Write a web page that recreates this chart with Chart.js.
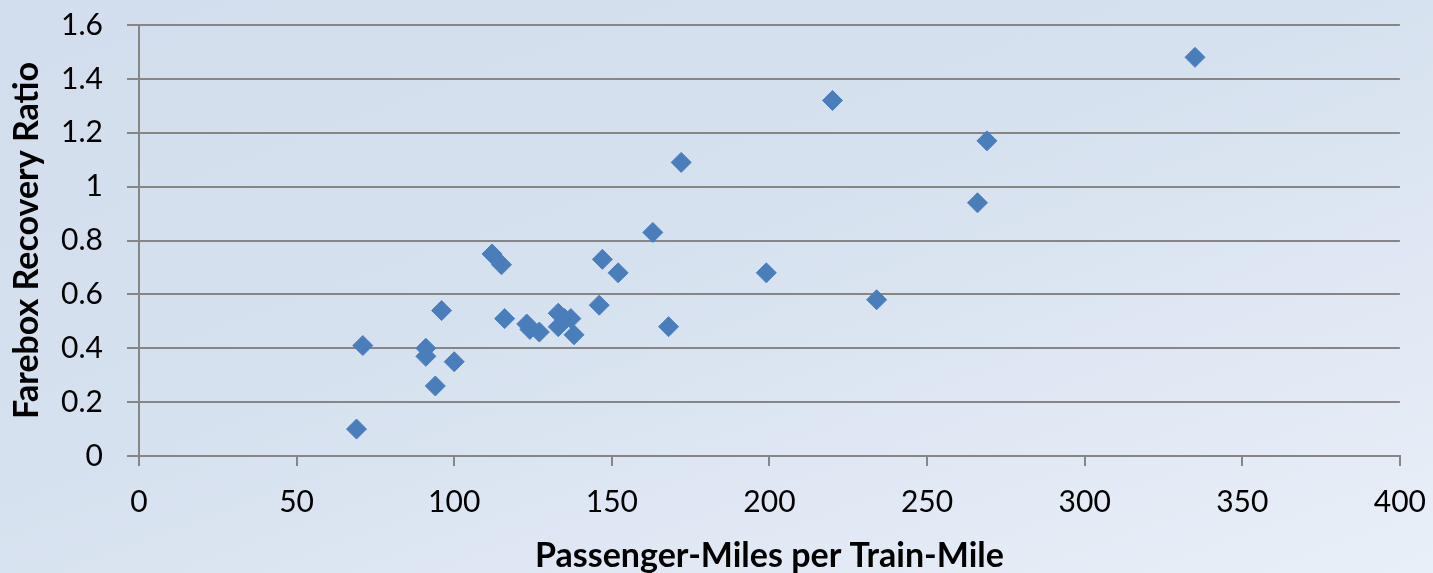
<!DOCTYPE html>
<html>
<head>
<meta charset="utf-8">
<script src="https://cdn.jsdelivr.net/npm/chart.js@4.4.1/dist/chart.umd.min.js"></script>
<style>
  html, body { margin: 0; padding: 0; }
  body {
    width: 1433px; height: 573px; overflow: hidden;
    background: linear-gradient(160deg, #d2deed 0%, #d6e1ef 45%, #e9eff8 100%);
  }
  /* canvas a bit larger than the page so the plot area lands where it should */
  #wrap { width: 1444px; height: 590px; margin-top: -17px; }
</style>
</head>
<body>
<div id="wrap"><canvas id="myChart"></canvas></div>
<script>
// passenger-miles per train-mile
const milesPerTrainMile = [
  69, 71, 91, 91, 94, 96, 100, 112, 115, 116,
  123, 124, 127, 133, 133, 135, 137, 138, 146, 147,
  152, 163, 168, 172, 199, 220, 234, 266, 269, 335
];
// farebox recovery ratio
const recoveryRatio = [
  0.10, 0.41, 0.40, 0.37, 0.26, 0.54, 0.35, 0.75, 0.71, 0.51,
  0.49, 0.47, 0.46, 0.53, 0.48, 0.51, 0.51, 0.45, 0.56, 0.73,
  0.68, 0.83, 0.48, 1.09, 0.68, 1.32, 0.58, 0.94, 1.17, 1.48
];
const xTicks = [0, 50, 100, 150, 200, 250, 300, 350, 400];
const yTicks = [0, 0.2, 0.4, 0.6, 0.8, 1, 1.2, 1.4, 1.6];

const points = milesPerTrainMile.map((x, i) => ({ x: x, y: recoveryRatio[i] }));
const fontFam = "Lato, 'Open Sans', sans-serif";

const config = {
  type: "scatter",
  data: {
    datasets: [
      {
        label: "Farebox Recovery Ratio",
        data: points,
        pointStyle: "rectRot",
        pointRadius: 10,
        pointHoverRadius: 10,
        backgroundColor: "#4a7ebb",
        borderColor: "#4a7ebb",
        borderWidth: 1,
      },
    ],
  },
  options: {
    responsive: true,
    maintainAspectRatio: false,
    animation: false,
    layout: { padding: { top: 0, right: 33, bottom: 0, left: 0 } },
    plugins: {
      legend: { display: false },
      tooltip: { enabled: false },
    },
    scales: {
      x: {
        type: "linear",
        min: 0,
        max: 400,
        afterBuildTicks: (axis) => { axis.ticks = xTicks.map(v => ({ value: v })); },
        afterFit: (axis) => { axis.height = 117; },
        border: { display: true, color: "#868686", width: 2 },
        grid: {
          drawOnChartArea: false,
          drawTicks: true,
          tickLength: 10,
          color: "#868686",
          lineWidth: 2,
        },
        ticks: {
          color: "#000",
          padding: 18,
          maxRotation: 0,
          font: { family: fontFam, size: 30 },
        },
        title: {
          display: true,
          text: "Passenger-Miles per Train-Mile",
          color: "#000",
          padding: { top: 0, bottom: 0 },
          font: { family: fontFam, size: 34, weight: "bold", lineHeight: 1 },
        },
      },
      y: {
        min: 0,
        max: 1.6,
        afterBuildTicks: (axis) => { axis.ticks = yTicks.map(v => ({ value: v })); },
        afterFit: (axis) => { axis.width = 139; },
        border: { display: true, color: "#868686", width: 2 },
        grid: {
          color: "#868686",
          lineWidth: 2,
          drawTicks: true,
          tickLength: 12,
        },
        ticks: {
          color: "#000",
          padding: 24,
          font: { family: fontFam, size: 30 },
          callback: (v) => String(v),
        },
        title: {
          display: true,
          text: "Farebox Recovery Ratio",
          color: "#000",
          padding: { top: 7, bottom: 0 },
          font: { family: fontFam, size: 34, weight: "bold" },
        },
      },
    },
  },
};

const myChart = new Chart("myChart", config);
</script>
</body>
</html>
